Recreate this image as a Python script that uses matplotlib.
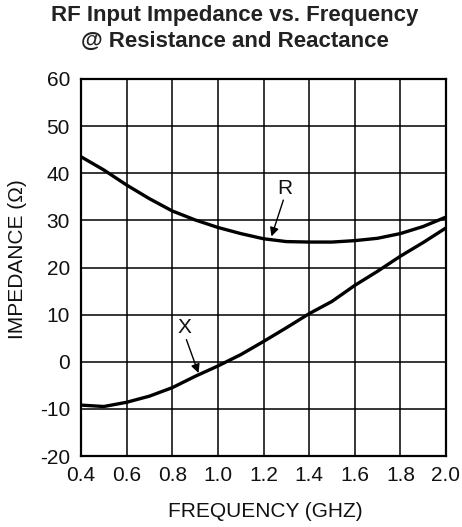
import matplotlib
matplotlib.use("Agg")
import matplotlib.pyplot as plt

plt.rcParams['font.family'] = ['Liberation Sans', 'DejaVu Sans']
plt.rcParams['axes.unicode_minus'] = False

freq_r = [0.4, 0.5, 0.6, 0.7, 0.8, 0.9, 1.0, 1.1, 1.2, 1.3, 1.4, 1.5, 1.6, 1.7, 1.8, 1.9, 2.0]
resistance = [43.5, 40.7, 37.5, 34.6, 32.0, 30.1, 28.5, 27.2, 26.1, 25.5, 25.4, 25.4, 25.7, 26.2, 27.2, 28.7, 30.7]

freq_x = [0.4, 0.5, 0.6, 0.7, 0.8, 0.9, 1.0, 1.1, 1.2, 1.3, 1.4, 1.5, 1.6, 1.7, 1.8, 1.9, 2.0]
reactance = [-9.2, -9.5, -8.6, -7.3, -5.5, -3.1, -0.9, 1.5, 4.3, 7.2, 10.2, 12.8, 16.2, 19.2, 22.4, 25.3, 28.4]

x_ticks = [0.4, 0.6, 0.8, 1.0, 1.2, 1.4, 1.6, 1.8, 2.0]
y_ticks = [-20, -10, 0, 10, 20, 30, 40, 50, 60]

W, H = 462, 527
fig = plt.figure(figsize=(W/100, H/100), dpi=100)
ax = fig.add_axes([81/W, 1-456/H, (446-81)/W, (456-79)/H])

ax.plot(freq_r, resistance, color='black', lw=2.4, solid_joinstyle='round')
ax.plot(freq_x, reactance, color='black', lw=2.4, solid_joinstyle='round')

ax.set_xlim(0.4, 2.0)
ax.set_ylim(-20, 60)
ax.set_xticks(x_ticks)
ax.set_xticklabels([f"{v:.1f}" for v in x_ticks])
ax.set_yticks(y_ticks)
ax.set_yticklabels([str(v) for v in y_ticks])
ax.grid(True, color='black', lw=1.1)
ax.tick_params(axis='x', length=0, labelsize=15, pad=7, colors='#111111')
ax.tick_params(axis='y', length=0, labelsize=15, pad=8, colors='#111111')
for s in ax.spines.values():
    s.set_linewidth(1.6)

fig.text(265/W, 1-517/H, "FREQUENCY (GHZ)", ha='center', va='baseline',
         fontsize=15, color='#111111')
fig.text(18/W, 1-259/H, "IMPEDANCE (Ω)", ha='center', va='center', rotation=90,
         fontsize=15, color='#111111')

# annotations
ax.text(1.293, 36.8, "R", fontsize=15, ha='center', va='center', color='#111111')
ax.annotate("", xy=(1.235, 26.6), xytext=(1.287, 34.3),
            arrowprops=dict(arrowstyle='-|>', color='black', lw=1.0,
                            mutation_scale=13, shrinkA=0, shrinkB=0))
ax.text(0.855, 7.2, "X", fontsize=15, ha='center', va='center', color='#111111')
ax.annotate("", xy=(0.915, -2.4), xytext=(0.862, 4.7),
            arrowprops=dict(arrowstyle='-|>', color='black', lw=1.0,
                            mutation_scale=13, shrinkA=0, shrinkB=0))

fig.text(235/W, 1-21/H, "RF Input Impedance vs. Frequency", ha='center', va='baseline',
         fontsize=16, fontweight='bold', color='#222222')
fig.text(235/W, 1-46.5/H, "@ Resistance and Reactance", ha='center', va='baseline',
         fontsize=16, fontweight='bold', color='#222222')

fig.savefig("out.png", dpi=100)
